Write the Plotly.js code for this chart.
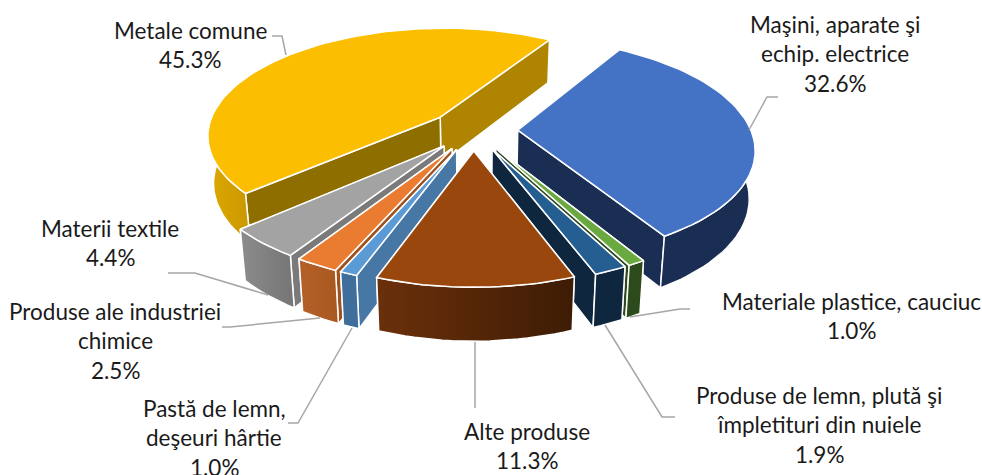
<!DOCTYPE html>
<html>
<head>
<meta charset="utf-8">
<script src="https://cdn.plot.ly/plotly-3.0.1.min.js"></script>
<style>html,body{margin:0;padding:0;background:#fff}#chart{width:982px;height:475px}</style>
</head>
<body>
<div id="chart"></div>
<script>
// Data, clockwise from the first slice
const categories = ["Maşini, aparate şi echip. electrice", "Materiale plastice, cauciuc", "Produse de lemn, plută şi împletituri din nuiele", "Alte produse", "Pastă de lemn, deşeuri hârtie", "Produse ale industriei chimice", "Materii textile", "Metale comune"];
const values = [32.6, 1.0, 1.9, 11.3, 1.0, 2.5, 4.4, 45.3];
const labelLines = [["Maşini, aparate şi", "echip. electrice"], ["Materiale plastice, cauciuc"], ["Produse de lemn, plută şi", "împletituri din nuiele"], ["Alte produse"], ["Pastă de lemn,", "deşeuri hârtie"], ["Produse ale industriei", "chimice"], ["Materii textile"], ["Metale comune"]];

// Style per slice
const topColors = ["#4472C4", "#6AA93F", "#255E91", "#9A470D", "#5B9BD5", "#E97C30", "#A3A3A3", "#FBBE00"];
const startCutColors = ["#1A2D52", "#2C4A1B", "#0F263F", "#3F1C05", "#4777A5", "#A0521E", "#7A7A7A", "#8F6E00"];
const endCutColors = ["#1A2D52", "#2C4A1B", "#0F263F", "#3F1C05", "#3F6D9C", "#A0521E", "#7A7A7A", "#AE8400"];
const wallLeft = ["#1A2D52", "#2C4A1B", "#0F263F", "#6B300A", "#3F6D9C", "#B5602A", "#8C8C8C", "#DDA800"];
const wallRight = ["#1A2D52", "#2C4A1B", "#0F263F", "#3D1C05", "#3F6D9C", "#A8581F", "#757575", "#C99800"];
// Painter's order, back to front
const drawOrder = [7, 0, 1, 2, 6, 5, 4, 3];

// Label placement [centre x, first-line y]
const labelX = [835, 851, 819, 527, 214, 115, 110, 190];
const labelY = [24, 301, 395, 431, 408, 311, 228, 30];
const lineGap = 29.5;

// Leader lines
const leaders = [
  [[778, 767, 749], [97, 97, 130]],
  [[690, 680, 630], [309, 309, 317]],
  [[675, 662, 605], [417, 417, 325]],
  [[475, 475], [342, 408]],
  [[288, 298, 352], [423, 423, 328]],
  [[222, 230, 320], [327, 327, 318]],
  [[168, 195, 268], [273, 273, 295]],
  [[272, 282, 286], [36, 36, 55]]
];

// Projection of the tilted pie
const startDeg = 31.5, explode = 0.19, cx = 473.5, cy = 130, R = 233, Q = 107, persp = 0.16;
function project(wx, wy) {
  const s = 1 / (1 - persp * wy);
  return [cx + R * wx * s, cy + Q * wy * s];
}
function lower(p) {
  return [p[0] - 0.021 * (p[0] - 475), p[1] + 43 + 0.044 * (p[1] - 39)];
}
function dirOf(deg) {
  const a = deg * Math.PI / 180;
  return [Math.sin(a), -Math.cos(a)];
}

const total = values.reduce((a, b) => a + b, 0);
let acc = startDeg;
const geom = values.map(v => {
  const a0 = acc, a1 = acc + v / total * 360;
  acc = a1;
  const mid = (a0 + a1) / 2;
  const m = dirOf(mid);
  const ox = explode * m[0], oy = explode * m[1];
  const apex = project(ox, oy);
  const sample = (from, to) => {
    const out = [], n = Math.max(2, Math.ceil((to - from) / 2));
    for (let i = 0; i <= n; i++) {
      const d = dirOf(from + (to - from) * i / n);
      out.push(project(ox + d[0], oy + d[1]));
    }
    return out;
  };
  // Only the part of the rim that faces the viewer has a visible wall
  const wf = Math.max(a0, 88), wt = Math.min(a1, 272);
  return { apex, mid, arc: sample(a0, a1), rim: wt > wf ? sample(wf, wt) : null };
});

function face(points, color, gradient) {
  const t = {
    type: "scatter", mode: "lines", fill: "toself",
    x: points.map(p => p[0]).concat(points[0][0]),
    y: points.map(p => p[1]).concat(points[0][1]),
    line: { color: "#FFFFFF", width: 1.5 },
    fillcolor: color, hoverinfo: "skip", showlegend: false
  };
  if (gradient) t.fillgradient = { type: "horizontal", colorscale: [[0, gradient[0]], [1, gradient[1]]] };
  return t;
}

const traces = [];
drawOrder.forEach(i => {
  const g = geom[i], arc = g.arc;
  const a = g.apex, aL = lower(a);
  const first = arc[0], last = arc[arc.length - 1];
  const startFace = face([a, first, lower(first), aL], startCutColors[i]);
  const endFace = face([a, last, lower(last), aL], endCutColors[i]);
  // The cut face nearer the middle of the picture is painted last
  if (g.mid > 180) traces.push(endFace, startFace);
  else traces.push(startFace, endFace);
  if (g.rim) traces.push(face(g.rim.concat(g.rim.map(lower).reverse()), wallLeft[i], [wallLeft[i], wallRight[i]]));
  traces.push(face([a].concat(arc), topColors[i]));
});
leaders.forEach(l => traces.push({
  type: "scatter", mode: "lines", x: l[0], y: l[1],
  line: { color: "#A6A6A6", width: 1.5 }, hoverinfo: "skip", showlegend: false
}));

const annotations = [];
categories.forEach((c, i) => {
  const lines = labelLines[i].concat(values[i].toFixed(1) + "%");
  lines.forEach((text, j) => annotations.push({
    text, x: labelX[i], y: labelY[i] + j * lineGap,
    xref: "x", yref: "y", showarrow: false, xanchor: "center", yanchor: "middle",
    font: { family: "Lato, sans-serif", size: 22.5, color: "#1A1A1A" }
  }));
});

const axis = { visible: false, fixedrange: true, showgrid: false, zeroline: false };
Plotly.newPlot("chart", traces, {
  width: 982, height: 475, margin: { l: 0, r: 0, t: 0, b: 0 },
  paper_bgcolor: "#FFFFFF", plot_bgcolor: "#FFFFFF", showlegend: false,
  xaxis: Object.assign({ range: [0, 982] }, axis),
  yaxis: Object.assign({ range: [475, 0] }, axis),
  annotations
}, { displayModeBar: false, staticPlot: true });
</script>
</body>
</html>
